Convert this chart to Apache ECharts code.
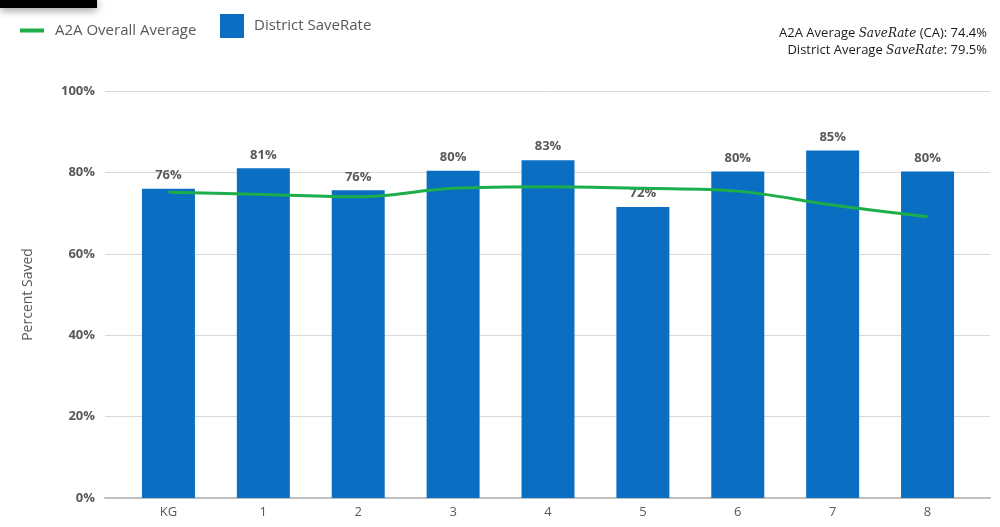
<!DOCTYPE html>
<html>
<head>
<meta charset="utf-8">
<script src="https://cdn.jsdelivr.net/npm/echarts@6/dist/echarts.min.js"></script>
<style>html,body{margin:0;padding:0;background:#fff}#c{width:1000px;height:527px}</style>
</head>
<body>
<div id="c"></div>
<script>
const categories = ['KG', '1', '2', '3', '4', '5', '6', '7', '8'];
const districtSaveRate = [76, 81, 75.6, 80.4, 83, 71.5, 80.2, 85.4, 80.2];
const a2aOverallAverage = [75.1, 74.6, 74.0, 76.1, 76.5, 76.1, 75.4, 72.0, 69.1];
const yTickValues = [0, 20, 40, 60, 80, 100];
const a2aAverageText = '74.4%';
const districtAverageText = '79.5%';

const FONT = '"Open Sans", sans-serif';
const GRAY = '#595959';
const BLUE = '#0a6ec3';
const GREEN = '#1cae4a';

const chart = echarts.init(document.getElementById('c'));
chart.setOption({
  animation: false,
  textStyle: { fontFamily: FONT },
  grid: [
    { left: 105, right: 10, top: 91, bottom: 29 },
    { left: 121, right: 25, top: 91, bottom: 29 }
  ],
  legend: [
    {
      left: 15, top: 18, itemWidth: 24, itemHeight: 4, icon: 'rect',
      data: [{ name: 'A2A Overall Average', itemStyle: { color: GREEN } }],
      textStyle: { color: GRAY, fontSize: 15, fontFamily: FONT, padding: [0, 0, 0, 6] }
    },
    {
      left: 215, top: 9, itemWidth: 24, itemHeight: 24, icon: 'rect',
      data: [{ name: 'District SaveRate', itemStyle: { color: BLUE } }],
      textStyle: { color: GRAY, fontSize: 15, fontFamily: FONT, padding: [0, 0, 0, 5] }
    }
  ],
  xAxis: [
    {
      type: 'category', gridIndex: 0, data: [''],
      axisLine: { show: true, lineStyle: { color: '#bfbfbf', width: 2 } },
      axisTick: { show: false }, axisLabel: { show: false }
    },
    {
      type: 'category', gridIndex: 1, data: categories,
      axisLine: { show: false }, axisTick: { show: false },
      axisLabel: { color: GRAY, fontSize: 13, margin: 8, fontFamily: FONT }
    }
  ],
  yAxis: [
    {
      type: 'value', gridIndex: 0, min: yTickValues[0], max: yTickValues[yTickValues.length - 1], interval: 20,
      name: 'Percent Saved', nameLocation: 'middle', nameGap: 70,
      nameTextStyle: { color: GRAY, fontSize: 14, fontFamily: FONT },
      axisLine: { show: false }, axisTick: { show: false },
      axisLabel: { color: GRAY, fontSize: 13, fontWeight: 'bold', margin: 10, formatter: '{value}%', fontFamily: FONT },
      splitLine: { lineStyle: { color: '#d9d9d9', width: 1 } }
    },
    {
      type: 'value', gridIndex: 1, min: 0, max: 100, show: false,
      splitLine: { show: false }
    }
  ],
  series: [
    {
      name: 'District SaveRate', type: 'bar', xAxisIndex: 1, yAxisIndex: 1,
      data: districtSaveRate, barWidth: 53,
      itemStyle: { color: BLUE },
      label: {
        show: true, position: 'top', distance: 7, color: GRAY, fontSize: 13, fontWeight: 'bold', fontFamily: FONT,
        formatter: p => Math.round(p.value) + '%'
      },
      z: 2
    },
    {
      name: 'A2A Overall Average', type: 'line', xAxisIndex: 1, yAxisIndex: 1,
      data: a2aOverallAverage, smooth: 0.35, showSymbol: false,
      lineStyle: { color: GREEN, width: 3 }, itemStyle: { color: GREEN },
      z: 3
    }
  ],
  graphic: [
    {
      type: 'rect', left: 0, top: 0, shape: { width: 97, height: 8 },
      style: { fill: '#000', shadowBlur: 8, shadowColor: 'rgba(0,0,0,0.45)', shadowOffsetY: 2 }
    },
    {
      type: 'text', right: 13, top: 27,
      style: {
        text: '{n|A2A Average }{s|SaveRate}{n| (CA): ' + a2aAverageText + '}',
        align: 'right',
        rich: {
          n: { fontSize: 13, fill: '#1a1a1a', fontFamily: FONT },
          s: { fontSize: 12, fill: '#1a1a1a', fontFamily: '"DejaVu Serif", serif', fontStyle: 'italic' }
        }
      }
    },
    {
      type: 'text', right: 13, top: 44,
      style: {
        text: '{n|District Average }{s|SaveRate}{n|: ' + districtAverageText + '}',
        align: 'right',
        rich: {
          n: { fontSize: 13, fill: '#1a1a1a', fontFamily: FONT },
          s: { fontSize: 12, fill: '#1a1a1a', fontFamily: '"DejaVu Serif", serif', fontStyle: 'italic' }
        }
      }
    }
  ]
});
</script>
</body>
</html>
